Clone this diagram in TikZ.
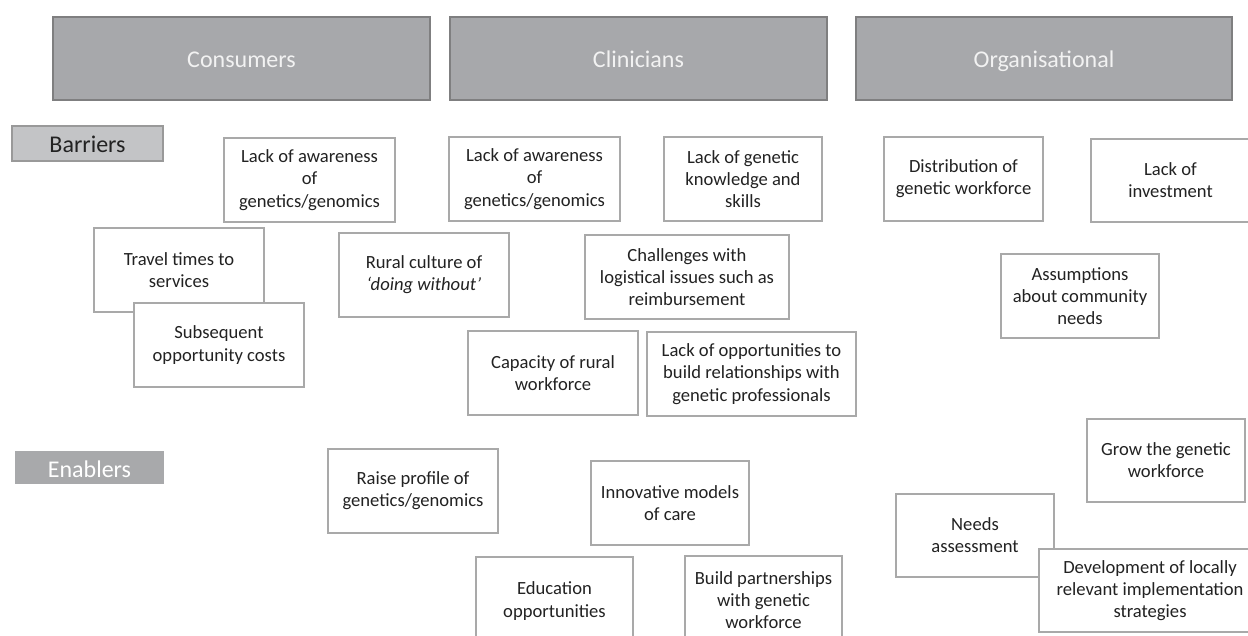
\documentclass[tikz,border=0pt]{standalone}
\usepackage{fontspec}
\setmainfont{Carlito}
\begin{document}
\definecolor{hdrfill}{HTML}{A7A8AB}
\definecolor{hdrline}{HTML}{7F7F80}
\definecolor{barfill}{HTML}{C3C4C6}
\definecolor{enafill}{HTML}{A8A9AB}
\definecolor{boxline}{HTML}{A9A9A9}
\definecolor{ink}{HTML}{222222}
\begin{tikzpicture}[x=1pt,y=-1pt,
  every node/.style={inner sep=0pt, align=center, text=ink},
  header/.style={draw=hdrline, fill=hdrfill, line width=1.2pt, text=white!95!black,
    font=\fontsize{24}{28}\selectfont, text height=24pt, text depth=5pt},
  tag/.style={font=\fontsize{24}{28}\selectfont, text height=24pt, text depth=5pt},
  item/.style={draw=boxline, fill=white, line width=1.3pt,
    font=\fontsize{18.6}{22.2}\selectfont},
  % place a node by its left, top, right, bottom edges
  ltrb/.style args={#1/#2/#3/#4}{minimum width={(#3)-(#1)}, minimum height={(#4)-(#2)},
    at={({((#1)+(#3))/2},{((#2)+(#4))/2})}}]
\useasboundingbox (0,0) rectangle (1248,636);

% column headers
\node[header, ltrb=53/17/430/100] (cons) {Consumers};
\node[header, ltrb=450/17/827/100] (clin) {Clinicians};
\node[header, ltrb=856/17/1232/100] (org) {Organisational};

% row labels
\node[tag, draw=hdrline!80, fill=barfill, line width=1.2pt, ltrb=12/126/163/161] (barriers) {Barriers};
\node[tag, fill=enafill, text=white, ltrb=15/451/164/484] (enablers) {Enablers};

% barriers: consumers
\node[item, ltrb=224/138/395/222] (cb1) {Lack of awareness\\of\\genetics/genomics};
\node[item, ltrb=94/228/264/312] (cb2) {Travel times to\\services};
\node[item, ltrb=134/303/304/387] (cb3) {Subsequent\\opportunity costs};
\node[item, ltrb=339/233/509/317] (cb4) {Rural culture of\\\textit{‘doing without’}};

% barriers: clinicians
\node[item, ltrb=449/137/620/221] (kb1) {Lack of awareness\\of\\genetics/genomics};
\node[item, ltrb=664/137/822/221] (kb2) {Lack of genetic\\knowledge and\\skills};
\node[item, ltrb=585/235/789/319] (kb3) {Challenges with\\logistical issues such as\\reimbursement};
\node[item, ltrb=468/331/638/415] (kb4) {Capacity of rural\\workforce};
\node[item, ltrb=647/332/856/416] (kb5) {Lack of opportunities to\\build relationships with\\genetic professionals};

% barriers: organisational
\node[item, ltrb=884/137/1043/221] (ob1) {Distribution of\\genetic workforce};
\node[item, ltrb=1091/139/1250/222] (ob2) {Lack of\\investment};
\node[item, ltrb=1001/254/1159/338] (ob3) {Assumptions\\about community\\needs};

% enablers
\node[item, ltrb=328/449/498/533] (en1) {Raise profile of\\genetics/genomics};
\node[item, ltrb=591/461/749/545] (en2) {Innovative models\\of care};
\node[item, ltrb=476/557/633/645] (en3) {Education\\opportunities};
\node[item, ltrb=685/556/842/644] (en4) {Build partnerships\\with genetic\\workforce};
\node[item, ltrb=1087/419/1245/502] (en5) {Grow the genetic\\workforce};
\node[item, ltrb=896/494/1054/577] (en6) {Needs\\assessment};
\node[item, ltrb=1039/549/1261/632] (en7) {Development of locally\\relevant implementation\\strategies};
\end{tikzpicture}
\end{document}
